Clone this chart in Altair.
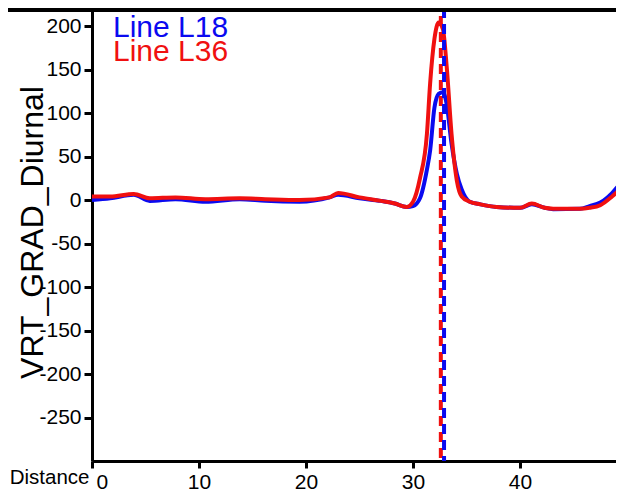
import altair as alt
import pandas as pd

# ---- data ----
distance = [0, 1.7, 3.9, 5.4, 7.8, 10.6, 13.8, 16.2, 19.4, 22.2, 23, 25, 27, 28.3, 29.4,
            30, 30.65, 31.3, 31.6, 32.0, 32.4, 32.8, 33.15, 33.6, 34.1, 34.55, 35.3, 36.3,
            37.8, 40, 41.1, 42.3, 43.1, 45.6, 46.5, 47.5, 48.6, 49.5]
l18 = [0, 2, 6, -1, 1, -2, 1, -1, -2, 3, 6, 2, -1, -4, -8,
       -7, 2, 35, 57, 106, 122, 124, 110, 65, 30, 12, -2, -5,
       -8, -9, -5, -9, -10.5, -10, -7, -3, 8, 21]
l36 = [4, 4, 7, 2, 3, 1, 2, 1, 0, 3, 8, 3, -1, -4, -8,
       -2, 25, 76, 134, 185, 204, 196, 153, 76, 22, 4, -2, -5,
       -8, -9, -4, -9, -10, -10, -9, -6, 4, 14]
series_names = ["Line L18", "Line L36"]
series_colors = ["#0a0af0", "#f01010"]
marker_pos = [32.9, 32.6]          # dashed vertical markers (L18, L36)
y_ticks = [-250, -200, -150, -100, -50, 0, 50, 100, 150, 200]
x_ticks = [0, 10, 20, 30, 40]

FONT = "Liberation Sans"
W, H = 524, 453

df = pd.DataFrame({
    "Distance": distance * 2,
    "value": l18 + l36,
    "series": [series_names[0]] * len(distance) + [series_names[1]] * len(distance),
})
markers = pd.DataFrame({"pos": marker_pos, "series": series_names})

xs = alt.Scale(domain=[0, 48.97], nice=False, zero=False)
ys = alt.Scale(domain=[-300, 220.7], nice=False, zero=False)
cs = alt.Scale(domain=series_names, range=series_colors)

xaxis = alt.Axis(
    values=x_ticks, title="Distance", grid=False,
    labelFont=FONT, labelFontSize=21, labelColor="black", labelPadding=3,
    labelFlush=True, labelFlushOffset=-4,
    domainColor="black", domainWidth=3, tickColor="black", tickWidth=3, tickSize=7,
    titleFont=FONT, titleFontSize=20.5, titleFontWeight="normal", titleColor="black",
    titleX=-3, titleY=22, titleAlign="right", titleBaseline="alphabetic", titleAngle=0,
    labelExpr="'' + datum.value",
)
yaxis = alt.Axis(
    values=y_ticks, title="VRT_GRAD_Diurnal", grid=False,
    labelFont=FONT, labelFontSize=21, labelColor="black", labelPadding=3,
    domainColor="black", domainWidth=3, tickColor="black", tickWidth=3, tickSize=8,
    titleFont=FONT, titleFontSize=32, titleFontWeight="normal", titleColor="black",
    titleX=-50, titleY=224, titleAngle=270, titleAlign="center", titleBaseline="alphabetic",
    labelExpr="'' + datum.value",
)

X = lambda f: alt.X(f, type="quantitative", scale=xs, axis=xaxis)
Y = lambda f: alt.Y(f, type="quantitative", scale=ys, axis=yaxis)

base_line = alt.Chart(df).mark_line(strokeWidth=4, interpolate="monotone", clip=True)
blue_line = base_line.transform_filter(alt.datum.series == series_names[0]).encode(
    x=X("Distance"), y=Y("value"), color=alt.Color("series:N", scale=cs, legend=None))
red_line = base_line.transform_filter(alt.datum.series == series_names[1]).encode(
    x=X("Distance"), y=Y("value"), color=alt.Color("series:N", scale=cs, legend=None))

red_mark = alt.Chart(markers).transform_filter(alt.datum.series == series_names[1]).mark_rule(
    strokeWidth=4, strokeDash=[10, 6], strokeDashOffset=8).encode(
    x=X("pos"), color=alt.Color("series:N", scale=cs, legend=None))
blue_mark = alt.Chart(markers).transform_filter(alt.datum.series == series_names[0]).mark_rule(
    strokeWidth=4, strokeDash=[10, 6]).encode(
    x=X("pos"), color=alt.Color("series:N", scale=cs, legend=None))

lab1 = alt.Chart(pd.DataFrame({"t": [series_names[0]]})).mark_text(
    font=FONT, fontSize=30, align="left", baseline="alphabetic", color=series_colors[0]).encode(
    text="t:N", x=alt.value(21), y=alt.value(29))
lab2 = alt.Chart(pd.DataFrame({"t": [series_names[1]]})).mark_text(
    font=FONT, fontSize=30, align="left", baseline="alphabetic", color=series_colors[1]).encode(
    text="t:N", x=alt.value(21), y=alt.value(53))

top_bar = alt.Chart(pd.DataFrame({"a": [0]})).mark_rule(color="black", strokeWidth=8).encode(
    x=alt.value(-84), x2=alt.value(W), y=alt.value(0))

chart = alt.layer(blue_line, red_line, red_mark, blue_mark, lab1, lab2, top_bar).properties(
    width=W, height=H,
    autosize=alt.AutoSizeParams(type="none"),
    padding={"left": 84, "top": 0, "right": 0, "bottom": 31},
    background="white",
).configure_view(stroke="#aaaaaa", strokeWidth=1)

chart.save("out.html", embed_options={"renderer": "svg", "actions": False})
